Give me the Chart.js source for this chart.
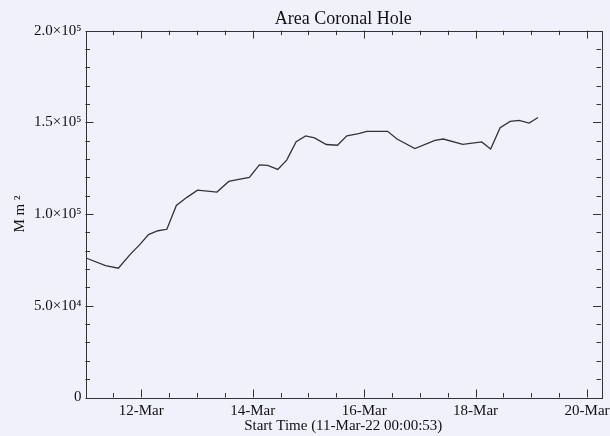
<!DOCTYPE html>
<html>
<head>
<meta charset="utf-8">
<script src="https://cdn.jsdelivr.net/npm/chart.js@4/dist/chart.umd.min.js"></script>
<style>
  html, body { margin: 0; padding: 0; background: #f1f1fb; }
  #wrap { width: 610px; height: 436px; }
</style>
</head>
<body>
<div id="wrap"><canvas id="chart" width="610" height="436"></canvas></div>
<script>
// time in days since 11-Mar-22 00:00, area in Mm^2
const days = [0.02, 0.36, 0.59, 0.81, 0.97, 1.13, 1.30, 1.46, 1.63, 1.82, 2.01, 2.36, 2.57, 2.75, 2.94,
    3.12, 3.27, 3.45, 3.61, 3.78, 3.95, 4.11, 4.32, 4.52, 4.69, 4.90, 5.05, 5.42, 5.59, 5.91,
    6.27, 6.42, 6.77, 7.11, 7.27, 7.44, 7.62, 7.78, 7.96, 8.12];
const area = [75900, 71900, 70500, 78300, 83200, 88800, 90900, 91700, 104700, 109100, 113000, 112000, 117800, 118900, 120000,
    126800, 126500, 124300, 129400, 139500, 142600, 141500, 137900, 137500, 142600, 143900, 145100, 145100, 140900, 135700,
    140200, 140900, 138000, 139300, 135500, 147100, 150500, 151100, 149600, 152600];

const xLabelDays = [1, 3, 5, 7, 9];
const xLabels = ['12-Mar', '14-Mar', '16-Mar', '18-Mar', '20-Mar'];
const yLabelValues = [0, 50000, 100000, 150000, 200000];
const yLabels = ['0', '5.0×10⁴', '1.0×10⁵', '1.5×10⁵', '2.0×10⁵'];

const axisColor = '#333';
const serif = '"Liberation Serif", "Times New Roman", serif';

const frame = {
    id: 'frame',
    beforeDraw(chart) {
        const c = chart.ctx;
        c.save();
        c.fillStyle = '#f1f1fb';
        c.fillRect(0, 0, chart.width, chart.height);
        c.restore();
    },
    afterDraw(chart) {
        const c = chart.ctx;
        const a = chart.chartArea;
        const xs = chart.scales.x, ys = chart.scales.y;
        c.save();
        c.strokeStyle = axisColor;
        c.lineWidth = 1;
        c.strokeRect(Math.round(a.left) + 0.5, Math.round(a.top) + 0.5,
            Math.round(a.right - a.left), Math.round(a.bottom - a.top));
        c.beginPath();
        xs.ticks.forEach(t => {
            const px = Math.round(xs.getPixelForValue(t.value)) + 0.5;
            const len = xLabelDays.includes(t.value) ? 8 : 4.5;
            c.moveTo(px, a.bottom); c.lineTo(px, a.bottom - len);
            c.moveTo(px, a.top); c.lineTo(px, a.top + len);
        });
        ys.ticks.forEach(t => {
            const py = Math.round(ys.getPixelForValue(t.value)) + 0.5;
            const len = yLabelValues.includes(t.value) ? 8 : 4.5;
            c.moveTo(a.left, py); c.lineTo(a.left + len, py);
            c.moveTo(a.right, py); c.lineTo(a.right - len, py);
        });
        c.stroke();
        c.restore();
    }
};

new Chart(document.getElementById('chart').getContext('2d'), {
    type: 'line',
    data: {
        datasets: [{
            data: days.map((d, i) => ({ x: d, y: area[i] })),
            borderColor: '#333',
            borderWidth: 1.3,
            pointRadius: 0,
            tension: 0,
            fill: false,
        }]
    },
    options: {
        responsive: false,
        animation: false,
        layout: { padding: { left: 0, right: 9, top: 0, bottom: 0 } },
        plugins: {
            legend: { display: false },
            tooltip: { enabled: false },
            title: {
                display: true,
                fullSize: false,
                text: 'Area Coronal Hole',
                color: '#111',
                font: { family: serif, size: 18, weight: 'normal' },
                padding: { top: 8, bottom: 1 },
            }
        },
        scales: {
            x: {
                type: 'linear',
                min: 0,
                max: 9.25,
                grid: { display: false, drawTicks: false },
                border: { display: false },
                afterBuildTicks(s) {
                    const t = [];
                    for (let i = 1; i <= 18; i++) t.push({ value: i / 2 });
                    s.ticks = t;
                },
                afterFit(s) { s.height = 38.5; s.paddingLeft = 0; s.paddingRight = 0; },
                ticks: {
                    autoSkip: false,
                    maxRotation: 0,
                    padding: 5,
                    color: '#111',
                    font: { family: serif, size: 15 },
                    callback(v) {
                        const i = xLabelDays.indexOf(v);
                        return i >= 0 ? xLabels[i] : '';
                    }
                },
                title: {
                    display: true,
                    text: 'Start Time (11-Mar-22 00:00:53)',
                    color: '#111',
                    font: { family: serif, size: 15 },
                    padding: { top: 0, bottom: 1 },
                }
            },
            y: {
                min: 0,
                max: 200000,
                grid: { display: false, drawTicks: false },
                border: { display: false },
                afterBuildTicks(s) {
                    const t = [];
                    for (let i = 0; i <= 20; i++) t.push({ value: i * 10000 });
                    s.ticks = t;
                },
                afterFit(s) { s.width = 85.5; s.paddingTop = 0; s.paddingBottom = 0; },
                ticks: {
                    autoSkip: false,
                    padding: 4,
                    color: '#111',
                    font: { family: serif, size: 15 },
                    callback(v) {
                        const i = yLabelValues.indexOf(v);
                        return i >= 0 ? yLabels[i] : '';
                    }
                },
                title: {
                    display: true,
                    text: 'M m ²',
                    color: '#111',
                    font: { family: serif, size: 15 },
                    padding: { top: 11, bottom: 0 },
                }
            }
        }
    },
    plugins: [frame]
});
</script>
</body>
</html>
